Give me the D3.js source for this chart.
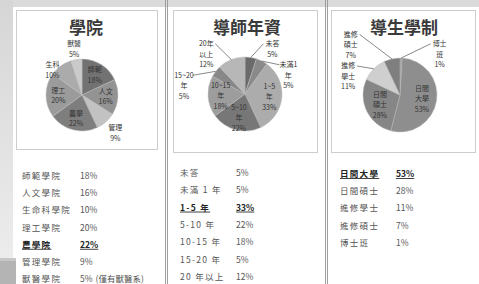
<!DOCTYPE html>
<html>
<head>
<meta charset="utf-8">
<script src="https://cdn.jsdelivr.net/npm/d3@7"></script>
<style>
body{margin:0;padding:0;background:#fff}
svg{display:block}
text{font-family:"Noto Sans CJK TC","Noto Sans",sans-serif}
</style>
</head>
<body>
<div id="chart"></div>
<script>
// pie slices, clockwise from 12 o'clock
var collegeNames = ["師範","人文","管理","農學","理工","生科","獸醫"]
var collegeValues = [18,16,9,22,20,10,5]
var tenureNames = ["未答","未滿1\n年","1~5\n年","5~10\n年","10~15\n年","15~20\n年","20年\n以上"]
var tenureValues = [5,5,33,22,18,5,12]
var programNames = ["博士\n班","日間\n大學","日間\n碩士","進修\n學士","進修\n碩士"]
var programValues = [1,53,28,11,7]

// tables under the pies
var collegeRows = ["師範學院","人文學院","生命科學院","理工學院","農學院","管理學院","獸醫學院"]
var collegeRowValues = [18,16,10,20,22,9,5]
var collegeNotes = ["","","","","","","(僅有獸醫系)"]
var tenureRows = ["未答","未滿 1 年","1-5 年","5-10 年","10-15 年","15-20 年","20 年以上"]
var tenureRowValues = [5,5,33,22,18,5,12]
var programRows = ["日間大學","日間碩士","進修學士","進修碩士","博士班"]
var programRowValues = [53,28,11,7,1]

var width = 479, height = 284
var svg = d3.select("#chart").append("svg").attr("width",width).attr("height",height)

drawBackground()

drawPie({title:"學院",tx:86,tw:17,cx:82,cy:95,r:36,names:collegeNames,values:collegeValues,
    colors:["#727272","#939393","#c2c2c2","#7e7e7e","#9b9b9b","#ababab","#cacaca"],
    labelR:1.4,push:0,maxX:1.6,inR:0.66,leaders:false})
drawPie({title:"導師年資",tx:247,tw:32,cx:245,cy:94,r:37,names:tenureNames,values:tenureValues,
    colors:["#6a6a6a","#8a8a8a","#acacac","#777777","#9d9d9d","#888888","#b7b7b7"],
    labelR:1.45,push:19,maxX:1.65,inR:0.66,leaders:true})
drawPie({title:"導生學制",tx:404,tw:34,cx:400,cy:95,r:37,names:programNames,values:programValues,
    colors:["#9a9a9a","#8e8e8e","#868686","#cfcfcf","#7f7f7f"],
    labelR:1.4,push:38,maxX:1.4,inR:0.6,leaders:true})

drawTable(collegeRows,collegeRowValues,collegeNotes,22,80,176,17.2)
drawTable(tenureRows,tenureRowValues,null,180,236,173,17.3)
drawTable(programRows,programRowValues,null,340,396,174,17.2)

function drawBackground(){
    var defs = svg.append("defs")
    var g = defs.append("linearGradient").attr("id","side").attr("x1",0).attr("x2",0).attr("y1",0).attr("y2",1)
    g.append("stop").attr("offset","0%").attr("stop-color","#d6d6d6")
    g.append("stop").attr("offset","100%").attr("stop-color","#ececec")
    svg.append("rect").attr("x",0).attr("y",0).attr("width",width).attr("height",7).attr("fill","#dadada")
    svg.append("rect").attr("x",0).attr("y",0).attr("width",13).attr("height",258).attr("fill","url(#side)")
    svg.append("rect").attr("x",0).attr("y",258).attr("width",16).attr("height",26).attr("fill","#b4b4b4")
    svg.append("rect").attr("x",0).attr("y",258).attr("width",16).attr("height",3).attr("fill","#c8c8c8")
    //vertical dividers
    var xs = [165.5,167.5,325.5,327.5]
    svg.selectAll(".divider").data(xs).enter().append("line")
        .attr("x1",function(d){return d}).attr("x2",function(d){return d})
        .attr("y1",0).attr("y2",height)
        .attr("stroke","#9e9e9e").attr("stroke-width",1)
    //chart frames
    var frames = [[16.5,10.5,141,139],[173.5,10.5,144,142],[331.5,10.5,144,142]]
    svg.selectAll(".frame").data(frames).enter().append("rect")
        .attr("x",function(d){return d[0]}).attr("y",function(d){return d[1]})
        .attr("width",function(d){return d[2]}).attr("height",function(d){return d[3]})
        .attr("fill","none").attr("stroke","#cdcdcd")
}

function drawPie(cfg){
    var g = svg.append("g").attr("transform","translate("+cfg.cx+","+cfg.cy+")")
    svg.append("text").attr("x",cfg.tx).attr("y",34).attr("text-anchor","middle")
        .attr("font-size",17).attr("font-weight","bold").attr("fill","#3a3a3a").text(cfg.title)

    var pie = d3.pie().sort(null).value(function(d){return d})
    var arcs = pie(cfg.values)
    var arc = d3.arc().innerRadius(0).outerRadius(cfg.r)
    var inArc = d3.arc().innerRadius(cfg.r*cfg.inR).outerRadius(cfg.r*cfg.inR)
    var outArc = d3.arc().innerRadius(cfg.r*cfg.labelR).outerRadius(cfg.r*cfg.labelR)
    var edgeArc = d3.arc().innerRadius(cfg.r).outerRadius(cfg.r)

    g.selectAll(".slice").data(arcs).enter().append("path")
        .attr("d",arc)
        .attr("fill",function(d,i){return cfg.colors[i]})
        .attr("stroke","#b8b8b8").attr("stroke-width",0.5)

    var lineH = 10.5
    var minTop = 38 - cfg.cy  // keep labels under the title
    var labels = arcs.map(function(d,i){
        var lines = cfg.names[i].split("\n").concat([d.value+"%"])
        var outside = d.value <= 12
        var p = outside ? outArc.centroid(d) : inArc.centroid(d)
        var side = p[0] >= 0 ? 1 : -1
        var h = lines.length*lineH
        if(outside){
            p[0] += side*cfg.push
            if(Math.abs(p[0]) > cfg.r*cfg.maxX) p[0] = side*cfg.r*cfg.maxX
            var underTitle = Math.abs(cfg.cx + p[0] - cfg.tx) < cfg.tw + 10
            if(underTitle && p[1] - h/2 < minTop) p[1] = minTop + h/2
        }
        return {d:d,lines:lines,outside:outside,x:p[0],y:p[1],side:side,h:h}
    })
    //push overlapping outside labels down
    ;[1,-1].forEach(function(s){
        var list = labels.filter(function(l){return l.outside && l.side==s})
            .sort(function(a,b){return a.y-b.y})
        list.forEach(function(l,i){
            for(var j=0;j<i;j++){
                var o = list[j]
                if(Math.abs(o.x-l.x) < 25 && l.y - l.h/2 < o.y + o.h/2){
                    l.y = o.y + o.h/2 + l.h/2
                }
            }
        })
    })

    if(cfg.leaders){
        labels.filter(function(l){return l.outside}).forEach(function(l){
            var e = edgeArc.centroid(l.d)
            var lx = l.x - l.side*9
            var ly = l.y - l.h/2 + lineH*0.55
            g.append("polyline")
                .attr("points",[e[0],e[1],lx,ly].join(","))
                .attr("fill","none").attr("stroke","#555").attr("stroke-width",0.7)
        })
    }

    labels.forEach(function(l){
        var t = g.append("text").attr("text-anchor","middle")
            .attr("font-size",7).attr("fill","#333")
        l.lines.forEach(function(s,k){
            t.append("tspan").attr("x",l.x)
                .attr("y",l.y - l.h/2 + lineH*k + 8)
                .text(s)
        })
    })
}

function drawTable(rows,values,notes,lx,vx,y0,step){
    var maxV = d3.max(values)
    var y = d3.scaleLinear().domain([0,1]).range([y0,y0+step])
    var g = svg.append("g")
    rows.forEach(function(r,i){
        var top = values[i]==maxV
        g.append("text").attr("x",lx).attr("y",y(i)+3)
            .attr("font-size",8.5).attr("fill",top?"#222":"#555")
            .attr("font-weight",top?"bold":"normal")
            .attr("text-decoration",top?"underline":"none")
            .attr("letter-spacing",1.3)
            .text(r)
        var v = values[i]+"%"
        var t = g.append("text").attr("x",vx).attr("y",y(i)+3)
            .attr("font-size",8.5).attr("fill",top?"#222":"#555")
            .attr("font-weight",top?"bold":"normal")
        t.append("tspan").attr("text-decoration",top?"underline":"none").text(v)
        if(notes && notes[i]) t.append("tspan").attr("dx",3).text(notes[i])
    })
}
</script>
</body>
</html>
